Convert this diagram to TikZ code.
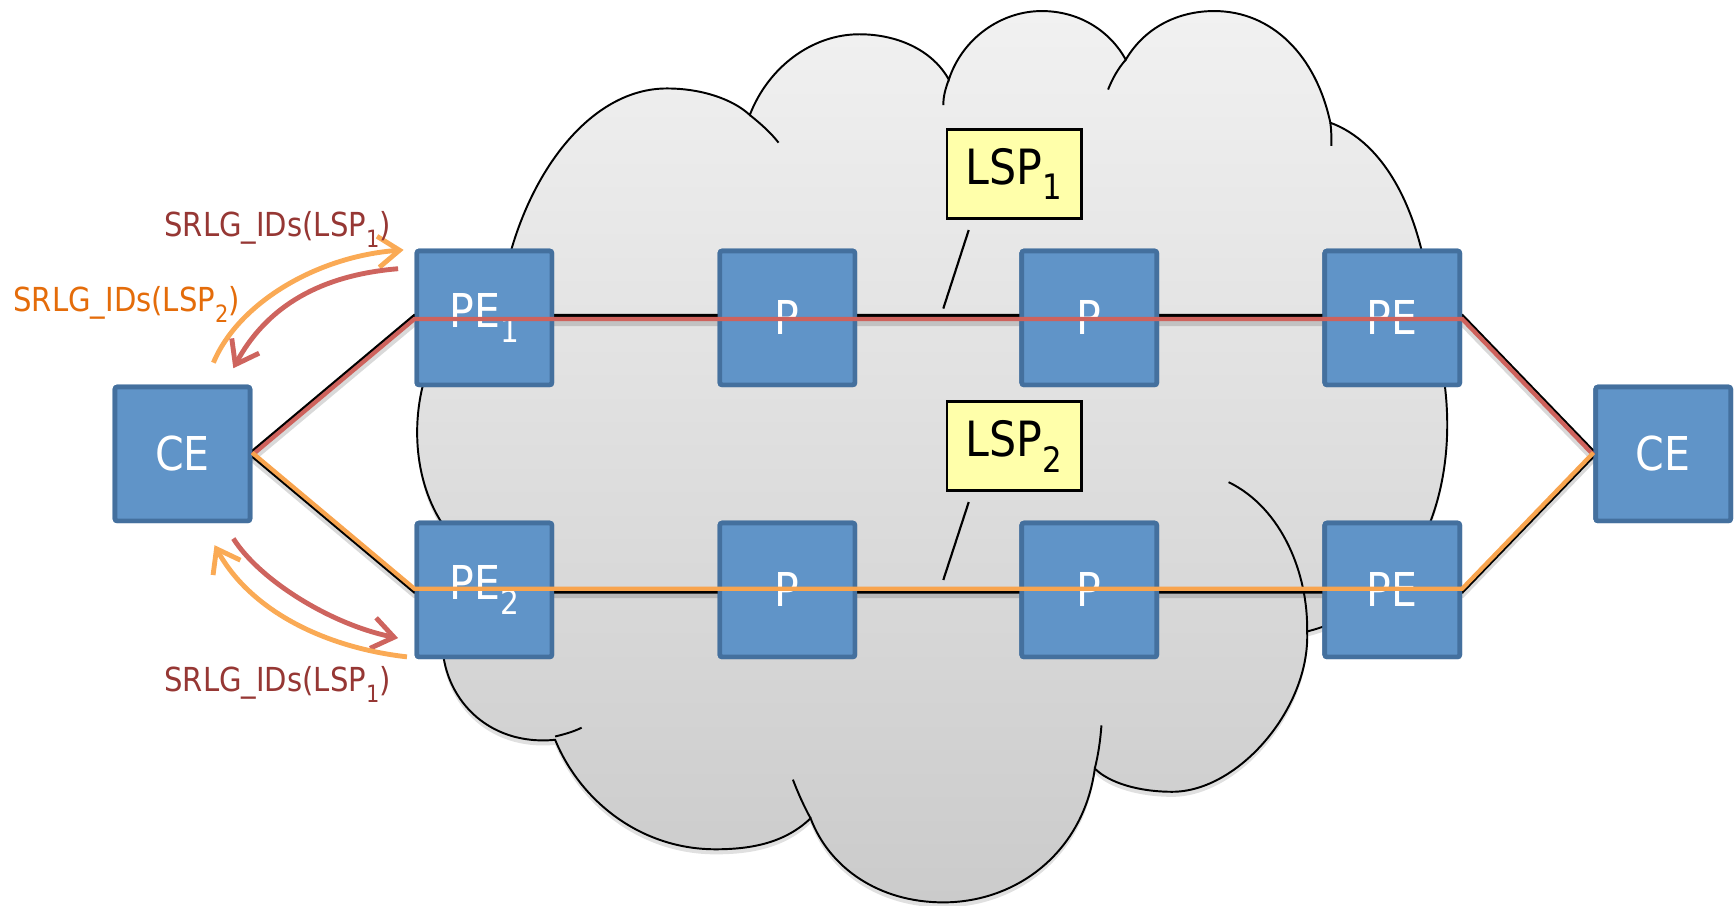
\documentclass[tikz,border=0pt]{standalone}
\usepackage{fontspec}
\setmainfont{DejaVu Sans}[FakeStretch=0.88]
\usetikzlibrary{arrows.meta,calc}
\definecolor{boxfill}{RGB}{96,148,200}
\definecolor{boxline}{RGB}{68,112,158}
\definecolor{lspfill}{RGB}{255,255,170}
\definecolor{redline}{RGB}{206,98,92}
\definecolor{orangeline}{RGB}{248,164,78}
\definecolor{redarrow}{RGB}{206,100,94}
\definecolor{orangearrow}{RGB}{250,170,85}
\definecolor{redtext}{RGB}{150,55,52}
\definecolor{orangetext}{RGB}{228,108,10}
\definecolor{cloudtop}{RGB}{241,241,241}
\definecolor{cloudbot}{RGB}{203,203,203}
\newcommand\lowsub[1]{\raisebox{-0.32em}{\scalebox{0.72}{#1}}}
\def\cloudpath{(450,300) .. controls (455,190) and (520,80) .. (603,80)
 .. controls (635,80) and (663,90) .. (678,104)
 .. controls (695,60) and (735,31) .. (777,31)
 .. controls (815,31) and (845,48) .. (858,72)
 .. controls (870,35) and (905,10) .. (942,10)
 .. controls (978,10) and (1005,30) .. (1018,54)
 .. controls (1035,25) and (1065,10) .. (1098,10)
 .. controls (1150,10) and (1190,50) .. (1203,111)
 .. controls (1250,128) and (1290,190) .. (1296,300)
 .. controls (1315,360) and (1315,440) .. (1280,500)
 .. controls (1255,540) and (1215,563) .. (1182,571)
 .. controls (1185,640) and (1120,716) .. (1060,716)
 .. controls (1030,716) and (1003,708) .. (990,695)
 .. controls (980,770) and (920,816) .. (853,816)
 .. controls (795,816) and (750,785) .. (733,740)
 .. controls (710,762) and (680,768) .. (647,768)
 .. controls (580,768) and (525,725) .. (502,669)
 .. controls (440,675) and (400,630) .. (400,580)
 .. controls (400,540) and (408,510) .. (418,495)
 .. controls (380,460) and (370,400) .. (382,350)
 .. controls (395,320) and (425,305) .. (450,300) -- cycle}
\begin{document}
\begin{tikzpicture}[x=0.01cm,y=-0.01cm,
  router/.style={draw=boxline, line width=1.2pt, fill=boxfill, rounded corners=0.6pt,
    minimum width=1.22cm, minimum height=1.21cm, inner sep=0pt, text=white,
    font=\fontsize{12}{14}\selectfont},
  lspbox/.style={draw=black, line width=0.7pt, fill=lspfill, minimum width=1.215cm,
    minimum height=0.805cm, inner sep=0pt, font=\fontsize{12.5}{14}\selectfont},
  lbl/.style={anchor=base, inner sep=0pt, font=\fontsize{8.5}{10}\selectfont},
  blackline/.style={draw=black, line width=0.9pt},
  lineshadow/.style={draw=black, opacity=0.15, line width=1.4pt},
  arr/.style={line width=1.25pt, -{Straight Barb[length=5.5pt,width=8pt]}},
  leader/.style={draw=black, line width=0.55pt},
  cloudline/.style={draw=black, line width=0.5pt}]
\useasboundingbox (0,0) rectangle (1568,818.4);

% cloud
\fill[black, opacity=0.12, transform canvas={yshift=-1.3pt}] \cloudpath;
\shade[top color=cloudtop, bottom color=cloudbot] \cloudpath;
\draw[cloudline] \cloudpath;
% inner arcs of the cloud
\draw[cloudline] (678,104) .. controls (688,112) and (697,120) .. (704,129);
\draw[cloudline] (853,95) .. controls (853,87) and (855,80) .. (858,72);
\draw[cloudline] (1002,81) .. controls (1006,71) and (1011,62) .. (1018,54);
\draw[cloudline] (1203,111) .. controls (1204,118) and (1204,125) .. (1204,132);
\draw[cloudline] (1111,436) .. controls (1160,460) and (1183,520) .. (1182,571);
\draw[cloudline] (996,656) .. controls (995,670) and (993,683) .. (990,695);
\draw[cloudline] (717,705) .. controls (722,718) and (727,729) .. (733,740);
\draw[cloudline] (502,666) .. controls (510,664) and (518,662) .. (526,658);

% shadows of the black links
\begin{scope}[transform canvas={yshift=-1.4pt}]
\draw[lineshadow] (228,410.5) -- (375,287.5) -- (1322,287.5) -- (1441,410.5);
\draw[lineshadow] (228,410.5) -- (375,533.5) -- (1322,533.5) -- (1441,410.5);
\end{scope}

\node[router] (CEL) at (165,410.5) {CE};
\node[router] (CER) at (1504,410.5) {CE};
\node[router] (PE1) at (438,287.5) {PE\lowsub{1}};
\node[router] (P1)  at (712,287.5) {P};
\node[router] (P2)  at (985,287.5) {P};
\node[router] (PE3) at (1259,287.5) {PE};
\node[router] (PE2) at (438,533.5) {PE\lowsub{2}};
\node[router] (P3)  at (712,533.5) {P};
\node[router] (P4)  at (985,533.5) {P};
\node[router] (PE4) at (1259,533.5) {PE};

% black links
\begin{scope}[transform canvas={yshift=0.6pt}]
\draw[blackline] (CEL.east) -- (PE1.west) -- (P1.west) -- (P2.west) -- (PE3.west) -- (PE3.east) -- (CER.west);
\end{scope}
\begin{scope}[transform canvas={yshift=-0.5pt}]
\draw[blackline] (CEL.east) -- (PE2.west) -- (P3.west) -- (P4.west) -- (PE4.west) -- (PE4.east) -- (CER.west);
\end{scope}

% boxes again, over the black links
\node[router] at (CEL) {CE};
\node[router] at (CER) {CE};
\node[router] at (PE1) {PE\lowsub{1}};
\node[router] at (P1) {P};
\node[router] at (P2) {P};
\node[router] at (PE3) {PE};
\node[router] at (PE2) {PE\lowsub{2}};
\node[router] at (P3) {P};
\node[router] at (P4) {P};
\node[router] at (PE4) {PE};

% coloured LSP paths over the boxes
\begin{scope}[transform canvas={yshift=-0.25pt}]
\draw[redline, line width=1.1pt] (CEL.east) -- (PE1.west) -- (P1.center) -- (P2.center) -- (PE3.east) -- (CER.west);
\end{scope}
\begin{scope}[transform canvas={yshift=0.3pt}]
\draw[orangeline, line width=1.1pt] (CEL.east) -- (PE2.west) -- (P3.center) -- (P4.center) -- (PE4.east) -- (CER.west);
\end{scope}

% LSP callouts
\node[lspbox] (LSP1) at (917,157.5) {LSP\lowsub{1}};
\node[lspbox] (LSP2) at (917,403.5) {LSP\lowsub{2}};
\coordinate (l1a) at ($(LSP1.south)+(-41,9)$);
\coordinate (l1b) at (853,279);
\coordinate (l2a) at ($(LSP2.south)+(-41,9)$);
\coordinate (l2b) at (853,524.5);
\draw[leader] (l1a) -- (l1b);
\draw[leader] (l2a) -- (l2b);

% SRLG exchange arrows
\coordinate (a1s) at (193,328);  \coordinate (a1e) at (365,226);
\coordinate (a2s) at (360,243);  \coordinate (a2e) at (211,333);
\coordinate (a3s) at (211,487);  \coordinate (a3e) at (360,577);
\coordinate (a4s) at (368,594);  \coordinate (a4e) at (194,493);
\draw[arr, orangearrow] (a1s) .. controls (215,275) and (285,232) .. (a1e);
\draw[arr, redarrow] (a2s) .. controls (300,248) and (245,270) .. (a2e);
\draw[arr, redarrow] (a3s) .. controls (235,525) and (300,565) .. (a3e);
\draw[arr, orangearrow] (a4s) .. controls (290,585) and (225,550) .. (a4e);

\node[lbl, text=redtext] (t1) at (251,214) {SRLG\_IDs(LSP\lowsub{1})};
\node[lbl, text=orangetext] (t2) at (114.5,282) {SRLG\_IDs(LSP\lowsub{2})};
\node[lbl, text=redtext] (t3) at (251,625.5) {SRLG\_IDs(LSP\lowsub{1})};
\end{tikzpicture}
\end{document}
